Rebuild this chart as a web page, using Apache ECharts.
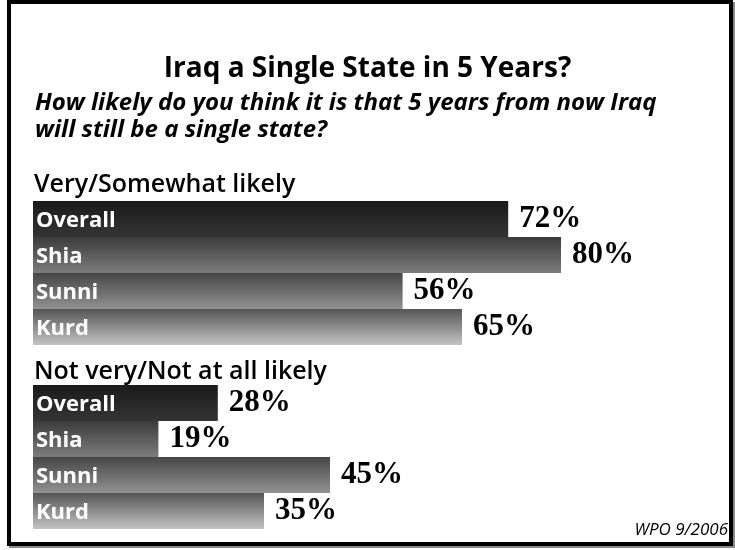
<!DOCTYPE html>
<html>
<head>
<meta charset="utf-8">
<script src="https://cdn.jsdelivr.net/npm/echarts@6/dist/echarts.min.js"></script>
<style>
html,body{margin:0;padding:0;background:#fff;}
#chart{width:735px;height:550px;}
</style>
</head>
<body>
<div id="chart"></div>
<script>
const categories = ["Overall", "Shia", "Sunni", "Kurd"];
const likelyValues = [72, 80, 56, 65];
const unlikelyValues = [28, 19, 45, 35];
const groupTitles = ["Very/Somewhat likely", "Not very/Not at all likely"];
const titleText = "Iraq a Single State in 5 Years?";
const subtitleText = "How likely do you think it is that 5 years from now Iraq\nwill still be a single state?";
const sourceText = "WPO 9/2006";

const gradStops = [
  ["#1a1a1a", "#353535"],
  ["#3c3c3c", "#7c7c7c"],
  ["#464646", "#929292"],
  ["#555555", "#c4c4c4"]
];
function grad(i){
  return new echarts.graphic.LinearGradient(0,0,0,1,[
    {offset:0,color:gradStops[i][0]},{offset:1,color:gradStops[i][1]}]);
}

const chart = echarts.init(document.getElementById('chart'), null, {renderer:'canvas'});
const sansFont = "Open Sans";
const serifFont = "Liberation Serif";

function barSeries(idx, values){
  return [{
    type:'bar', xAxisIndex:idx, yAxisIndex:idx,
    barWidth:'100%', barCategoryGap:0,
    data: values.map((v,i)=>({value:v, itemStyle:{color:grad(i)}})),
    label:{show:true, position:'right', distance:11, formatter:'{c}%',
      fontFamily:serifFont, fontWeight:'bold', fontSize:31, color:'#000'},
    silent:true, animation:false, z:2
  },{
    type:'bar', xAxisIndex:idx, yAxisIndex:idx,
    barWidth:'100%', barGap:'-100%',
    data: values,
    itemStyle:{color:'rgba(0,0,0,0)'},
    label:{show:true, position:'insideLeft', distance:3, offset:[0,2],
      formatter:(p)=>p.name,
      fontFamily:sansFont, fontWeight:'bold', fontSize:22, color:'#fff'},
    silent:true, animation:false, z:3
  }];
}

const option = {
  backgroundColor:'#fff',
  animation:false,
  grid:[
    {left:33, top:201, width:660, height:144},
    {left:33, top:385, width:660, height:144}
  ],
  xAxis:[0,1].map(i=>({gridIndex:i, type:'value', min:0, max:100, show:false})),
  yAxis:[0,1].map(i=>({gridIndex:i, type:'category', data:categories, inverse:true, show:false})),
  series:[...barSeries(0, likelyValues), ...barSeries(1, unlikelyValues)],
  graphic:[
    {type:'rect', shape:{x:9, y:2, width:726, height:546}, style:{fill:'#888'}, z:-3, silent:true},
    {type:'rect', shape:{x:7, y:0, width:726, height:546}, style:{fill:'#000'}, z:-2, silent:true},
    {type:'rect', shape:{x:11, y:4, width:718, height:538}, style:{fill:'#fff'}, z:-1, silent:true},
    {type:'text', left:'center', top:55, z:5,
      style:{text:titleText, fontFamily:sansFont, fontWeight:'bold', fontSize:28, fill:'#000'}},
    {type:'text', left:35, top:90, z:5,
      style:{text:subtitleText, fontFamily:sansFont, fontStyle:'italic', fontWeight:'bold', fontSize:24, fill:'#000', lineHeight:27}},
    {type:'text', left:34, top:172, z:5,
      style:{text:groupTitles[0], fontFamily:sansFont, fontWeight:600, fontSize:25, fill:'#000'}},
    {type:'text', left:34, top:359, z:5,
      style:{text:groupTitles[1], fontFamily:sansFont, fontWeight:600, fontSize:25, fill:'#000'}},
    {type:'text', right:7, top:522, z:5,
      style:{text:sourceText, fontFamily:sansFont, fontStyle:'italic', fontSize:17, fill:'#000'}}
  ]
};
chart.setOption(option);
</script>
</body>
</html>
